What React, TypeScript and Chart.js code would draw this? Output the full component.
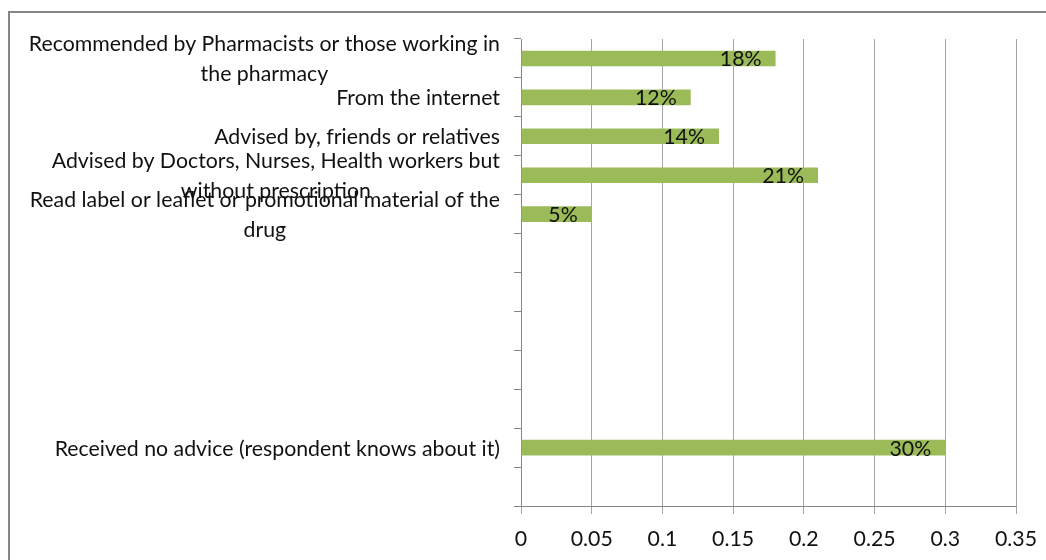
import React, { useEffect, useRef } from "react";
import { Chart, registerables } from "chart.js";

Chart.register(...registerables);

// Sources of advice (top to bottom); blank slots keep the category spacing.
const categoryLines: string[][] = [
  ["Recommended by Pharmacists or those working in", "the pharmacy"],
  ["From the internet"],
  ["Advised by, friends or relatives"],
  ["Advised by Doctors, Nurses, Health workers but", "without prescription"],
  ["Read label or leaflet or promotional material of the", "drug"],
  [],
  [],
  [],
  [],
  [],
  ["Received no advice (respondent knows about it)"],
  [],
];

const shares: (number | null)[] = [0.18, 0.12, 0.14, 0.21, 0.05, null, null, null, null, null, 0.3, null];

const xTicks: number[] = [0, 0.05, 0.1, 0.15, 0.2, 0.25, 0.3, 0.35];

const FONT = "Lato, 'Open Sans', sans-serif";
const FONT_SIZE = 21.3;
const TEXT_COLOR = "#111111";
const BAR_COLOR = "#9bbb59";
const GRID_COLOR = "#a6a6a6";
const AXIS_COLOR = "#868686";

const W = 1036;
const H = 547;

// Category names: right-aligned block, each line centred within the block.
const categoryLabelPlugin = {
  id: "categoryLabels",
  afterDraw(chart: any) {
    const { ctx, chartArea } = chart;
    const y = chart.scales.y;
    const right = chartArea.left - 21;
    const lineH = 30;
    ctx.save();
    ctx.font = `${FONT_SIZE}px ${FONT}`;
    ctx.fillStyle = TEXT_COLOR;
    ctx.textAlign = "center";
    ctx.textBaseline = "alphabetic";
    categoryLines.forEach((lines, i) => {
      if (!lines.length) return;
      const cy = y.getPixelForTick(i);
      const blockW = Math.max(...lines.map((l) => ctx.measureText(l).width));
      const cx = right - blockW / 2;
      lines.forEach((line, j) => {
        const ly = cy + (j - (lines.length - 1) / 2) * lineH + 8;
        ctx.fillText(line, cx, ly);
      });
    });
    ctx.restore();
  },
};

// Percentage labels just inside the end of each bar.
const valueLabelPlugin = {
  id: "valueLabels",
  afterDatasetsDraw(chart: any) {
    const { ctx } = chart;
    const meta = chart.getDatasetMeta(0);
    ctx.save();
    ctx.font = `${FONT_SIZE}px ${FONT}`;
    ctx.fillStyle = TEXT_COLOR;
    ctx.textAlign = "right";
    ctx.textBaseline = "alphabetic";
    meta.data.forEach((bar: any, i: number) => {
      const v = shares[i];
      if (v == null) return;
      ctx.fillText(`${Math.round(v * 100)}%`, bar.x - 14, bar.y + 8);
    });
    ctx.restore();
  },
};

export default function App() {
  const canvasRef = useRef<HTMLCanvasElement | null>(null);

  useEffect(() => {
    if (!canvasRef.current) return;
    const chart = new Chart(canvasRef.current, {
      type: "bar",
      data: {
        labels: categoryLines.map((l) => l.join(" ")),
        datasets: [
          {
            data: shares,
            backgroundColor: BAR_COLOR,
            borderWidth: 0,
            barPercentage: 0.4,
            categoryPercentage: 1,
          },
        ],
      },
      options: {
        indexAxis: "y",
        responsive: false,
        animation: false,
        layout: { padding: { top: 26, right: 30, left: 0, bottom: 0 } },
        plugins: {
          legend: { display: false },
          tooltip: { enabled: false },
        },
        scales: {
          x: {
            type: "linear",
            min: 0,
            max: 0.35,
            afterBuildTicks: (scale: any) => {
              scale.ticks = xTicks.map((v) => ({ value: v }));
            },
            afterFit: (scale: any) => {
              scale.height = 54;
              scale.paddingLeft = 0;
              scale.paddingRight = 0;
            },
            grid: {
              color: GRID_COLOR,
              lineWidth: 1,
              drawTicks: true,
              tickLength: 8,
              tickColor: GRID_COLOR,
            },
            border: { display: true, color: AXIS_COLOR, width: 1 },
            ticks: {
              color: TEXT_COLOR,
              font: { family: FONT, size: FONT_SIZE },
              padding: 12,
              maxRotation: 0,
              callback: (v: any) => String(Number(Number(v).toFixed(2))),
            },
          },
          y: {
            type: "category",
            offset: true,
            afterFit: (scale: any) => {
              scale.width = 511;
            },
            grid: {
              offset: true,
              drawOnChartArea: false,
              drawTicks: true,
              tickLength: 7,
              color: AXIS_COLOR,
            },
            border: { display: true, color: AXIS_COLOR, width: 1 },
            ticks: { display: false },
          },
        },
      },
      plugins: [valueLabelPlugin, categoryLabelPlugin],
    });
    return () => chart.destroy();
  }, []);

  return (
    <div
      style={{
        position: "fixed",
        left: 8,
        top: 11,
        width: 1038,
        height: 549,
        boxSizing: "border-box",
        borderTop: "2px solid #868686",
        borderLeft: "2px solid #868686",
        background: "#fff",
        overflow: "hidden",
      }}
    >
      <canvas ref={canvasRef} width={W} height={H} style={{ width: W, height: H, display: "block" }} />
    </div>
  );
}
